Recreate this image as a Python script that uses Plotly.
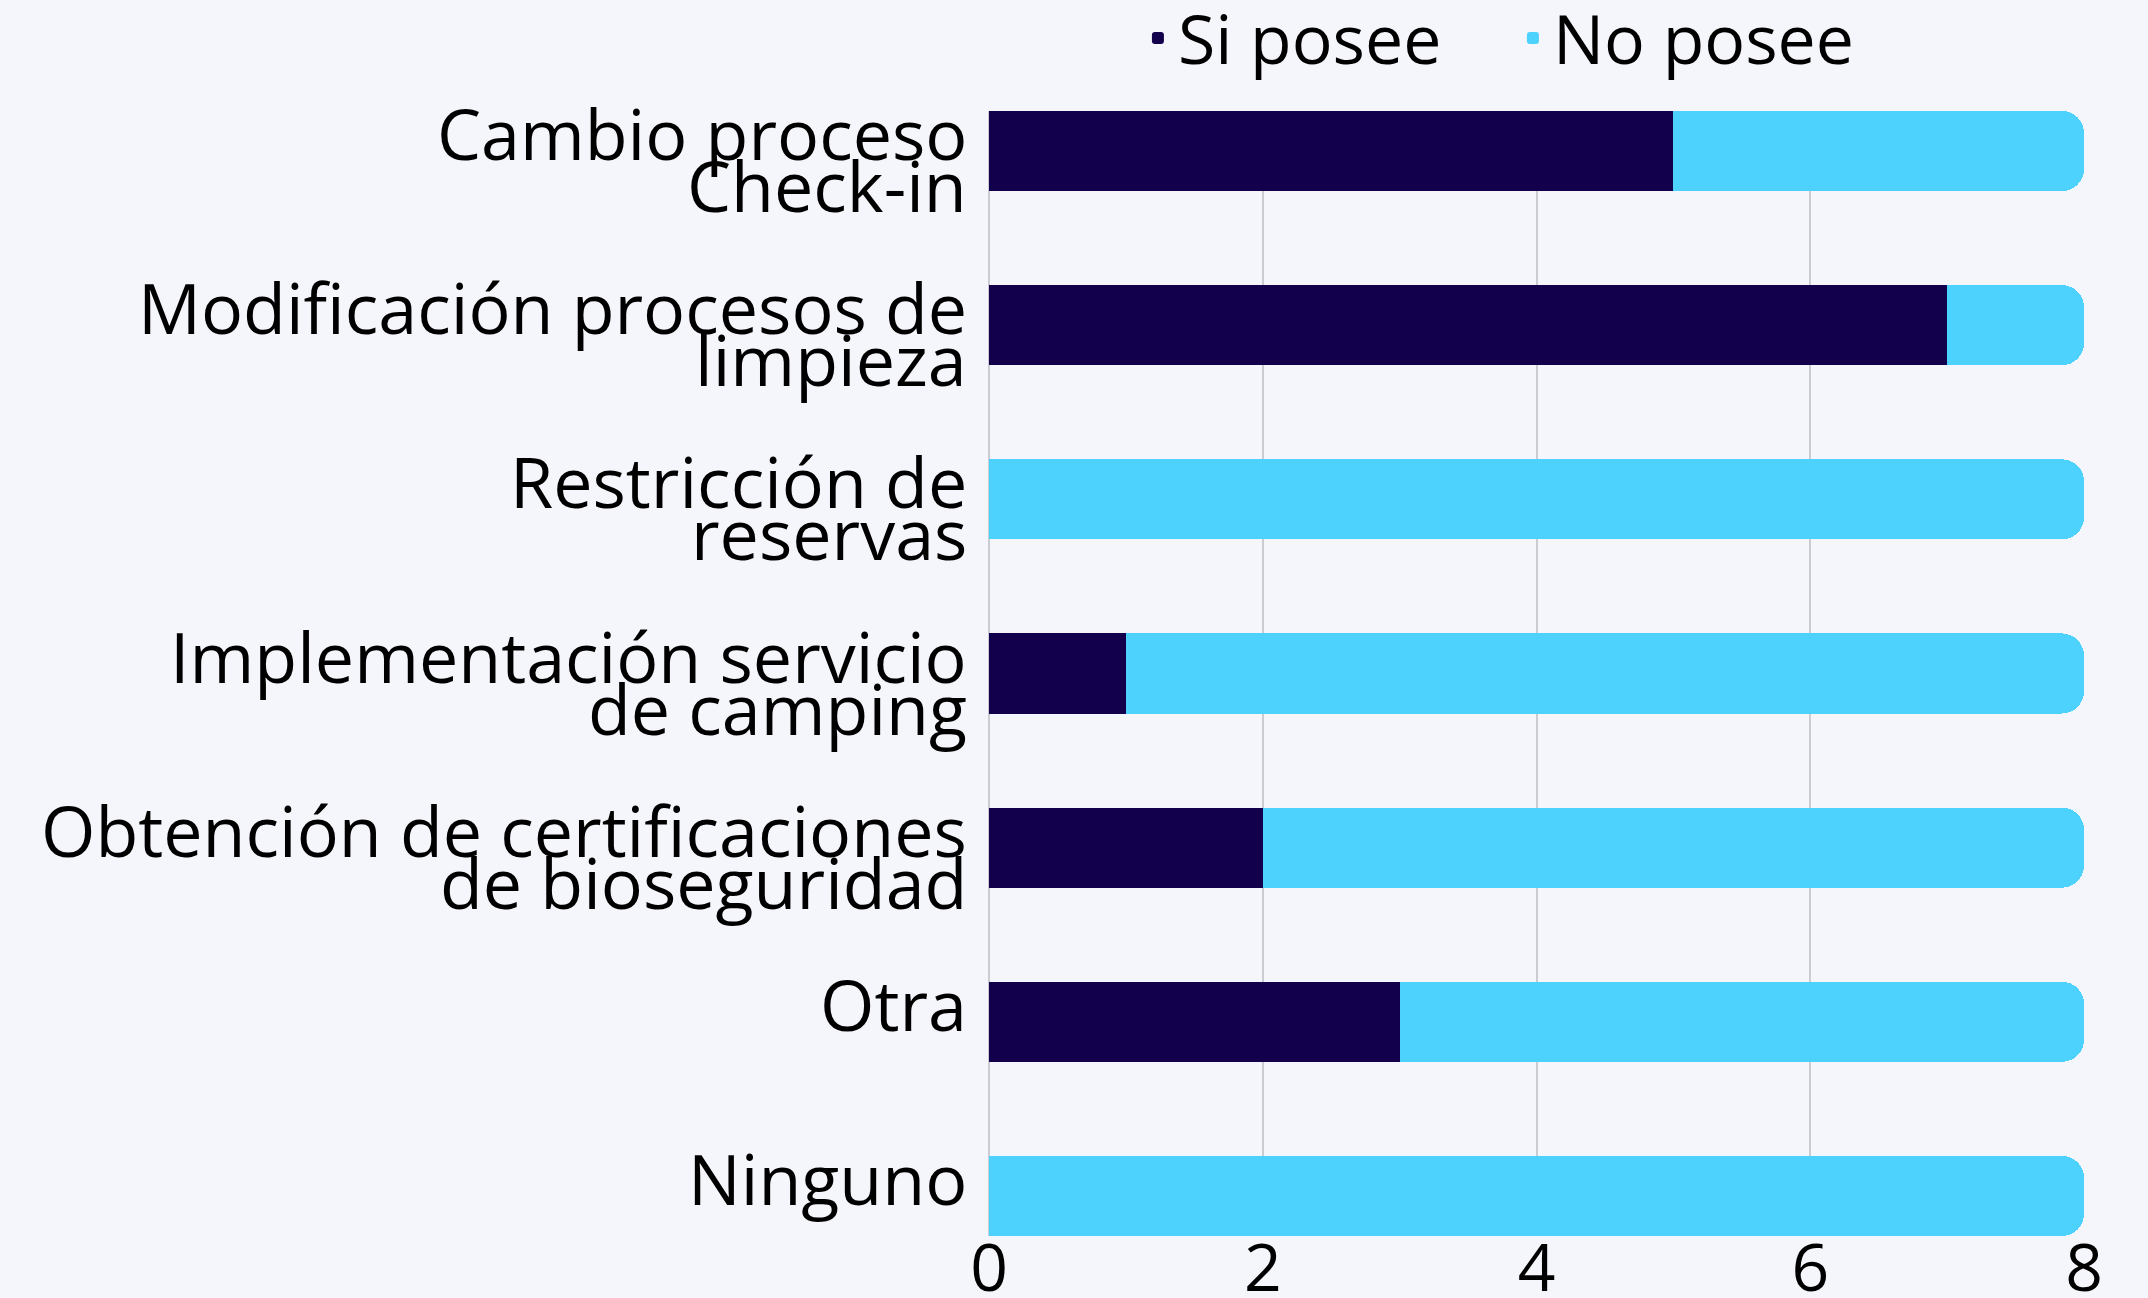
import plotly.graph_objects as go

categories = [
    "Cambio proceso<br>Check-in",
    "Modificación procesos de<br>limpieza",
    "Restricción de<br>reservas",
    "Implementación servicio<br>de camping",
    "Obtención de certificaciones<br>de bioseguridad",
    "Otra",
    "Ninguno",
]
si_posee = [5, 7, 0, 1, 2, 3, 0]
no_posee = [3, 1, 8, 7, 6, 5, 8]
x_ticks = [0, 2, 4, 6, 8]

FONT = "Open Sans"
DARK = "#12004c"
LIGHT = "#4dd1fd"
BG = "#f5f6fb"
GRID = "#cbcbd2"

idx = list(range(len(categories)))

fig = go.Figure()
fig.add_trace(go.Bar(y=idx, x=si_posee, name="Si posee", orientation="h",
                     marker=dict(color=DARK, line=dict(width=0))))
fig.add_trace(go.Bar(y=idx, x=no_posee, name="No posee", orientation="h",
                     marker=dict(color=LIGHT, line=dict(width=0))))

annotations = []
LINE_GAP = 52
for i, lab in enumerate(categories):
    for k, line in enumerate(lab.split("<br>")):
        annotations.append(dict(
            xref="paper", x=0, xanchor="right", xshift=-20,
            yref="y", y=i, yanchor="middle", yshift=18 - LINE_GAP * k,
            text=line, showarrow=False,
            font=dict(family=FONT, size=70, color="#000000"),
        ))

fig.update_layout(
    width=2148, height=1298,
    paper_bgcolor=BG, plot_bgcolor=BG,
    barmode="stack", bargap=0.54, barcornerradius=22,
    margin=dict(l=989, r=64, t=111, b=62, autoexpand=False),
    font=dict(family=FONT, color="#000000"),
    legend=dict(orientation="h", traceorder="normal",
                x=0.136, xanchor="left", y=1.11, yref="paper", yanchor="top",
                entrywidth=330, entrywidthmode="pixels",
                font=dict(family=FONT, size=68, color="#000000"),
                bgcolor="rgba(0,0,0,0)"),
    annotations=annotations,
)
fig.update_xaxes(range=[0, 8], tickvals=x_ticks, ticktext=[str(v) for v in x_ticks],
                 showgrid=True, gridcolor=GRID, gridwidth=1.5,
                 zeroline=True, zerolinecolor=GRID, zerolinewidth=1.5,
                 showline=False, ticks="", automargin=False, ticklabelstandoff=-12,
                 tickfont=dict(family=FONT, size=66, color="#000000"))
fig.update_yaxes(range=[6.23, -0.23], showticklabels=False, showgrid=False,
                 zeroline=False, showline=False, ticks="", automargin=False)

fig.write_html("out.html")
